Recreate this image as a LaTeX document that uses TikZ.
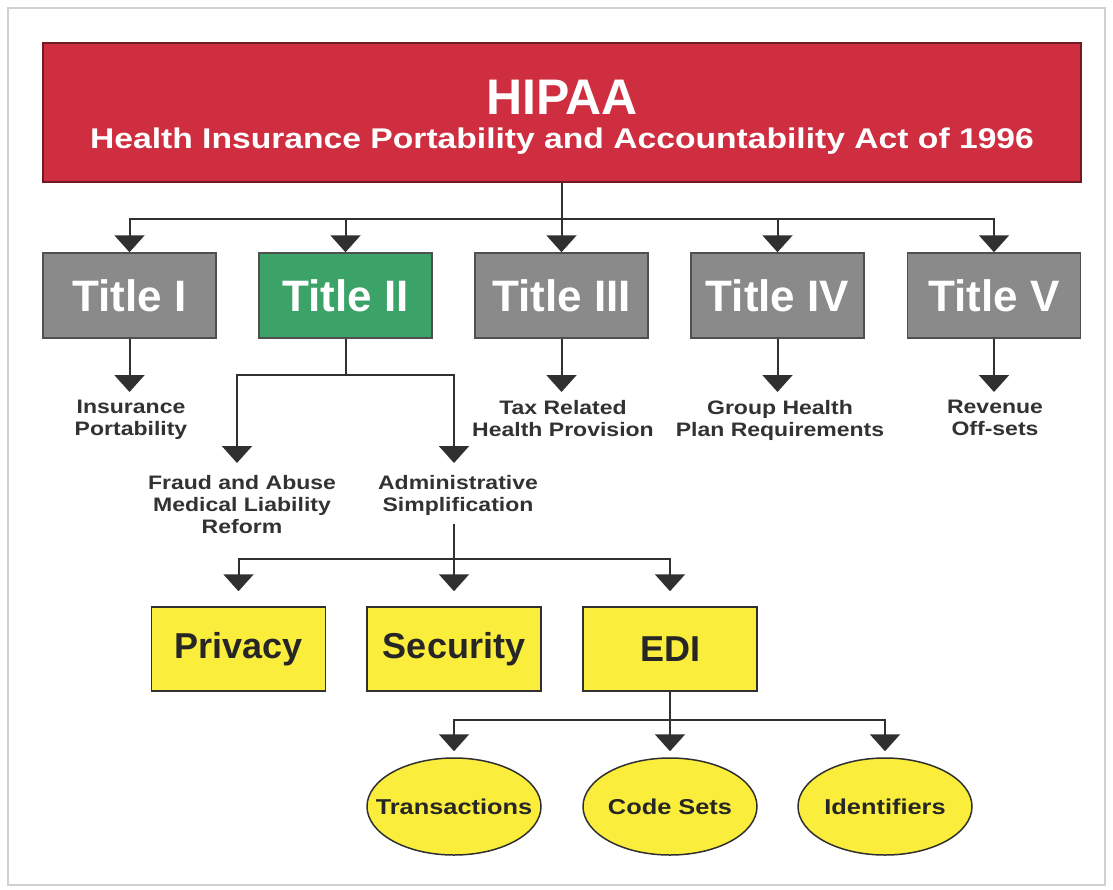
\documentclass[tikz,border=0pt]{standalone}
\usepackage{fontspec}
\setmainfont{Liberation Sans}
\newfontfamily\widefont[FakeStretch=1.18]{Liberation Sans}
\usetikzlibrary{arrows.meta,shapes.geometric}
\definecolor{hred}{RGB}{207,46,64}
\definecolor{hredb}{RGB}{110,28,36}
\definecolor{hgreen}{RGB}{60,163,104}
\definecolor{hgray}{RGB}{138,138,138}
\definecolor{hyellow}{RGB}{250,237,60}
\definecolor{hline}{RGB}{48,48,48}
\definecolor{htext}{RGB}{50,50,50}
\tikzset{
  x=1pt, y=-1pt,
  titlebox/.style={rectangle, draw=hline!85, line width=1.5pt, fill=hgray,
    minimum width=173pt, minimum height=85pt, text=white,
    font=\bfseries\fontsize{44}{44}\selectfont, inner sep=0pt},
  yellowbox/.style={rectangle, draw=hline, line width=1.5pt, fill=hyellow,
    minimum width=174pt, minimum height=84pt, text=black!85,
    font=\bfseries\fontsize{36}{36}\selectfont, inner sep=0pt},
  oval/.style={ellipse, draw=hline, line width=1.5pt, fill=hyellow,
    minimum width=174pt, minimum height=97pt, text=black!85,
    font=\widefont\bfseries\fontsize{21.5}{22}\selectfont, inner xsep=-40pt, inner ysep=0pt},
  lbl/.style={align=center, text=htext, font=\widefont\bfseries\fontsize{19.5}{22}\selectfont, inner sep=0pt},
  conn/.style={draw=hline, line width=2pt, -{Triangle[width=30pt,length=17pt]}},
}
\begin{document}
\begin{tikzpicture}
\useasboundingbox (0,0) rectangle (1113,889);
\fill[white] (0,0) rectangle (1113,889);
\draw[black!18, line width=2pt] (8,8) rectangle (1105,885);

% header
\node[rectangle, draw=hredb, line width=1.5pt, fill=hred, minimum width=1038pt,
  minimum height=139pt, inner sep=0pt, text=white, align=center,
  font=\widefont\bfseries\fontsize{28.5}{34}\selectfont] (hipaa) at (562,112.5)
  {\rule{0pt}{44pt}{\rmfamily\bfseries\fontsize{50}{50}\selectfont HIPAA}\\
   Health Insurance Portability and Accountability Act of 1996};

% titles
\node[titlebox] (t1) at (129.5,295.5) {Title I};
\node[titlebox, fill=hgreen] (t2) at (345.5,295.5) {Title II};
\node[titlebox] (t3) at (561.5,295.5) {Title III};
\node[titlebox] (t4) at (777.5,295.5) {Title IV};
\node[titlebox] (t5) at (994,295.5) {Title V};

\coordinate (bus1) at (562,219);
\foreach \t in {t1,t2,t3,t4,t5}
  \draw[conn] (hipaa.south) -- (bus1) -| (\t.north);

% labels under titles
\node[lbl, anchor=north] (ins) at (131,400) {Insurance\\Portability};
\node[lbl, anchor=north] (tax) at (563,400) {Tax Related\\Health Provision};
\node[lbl, anchor=north] (grp) at (780,400) {Group Health\\Plan Requirements};
\node[lbl, anchor=north] (rev) at (995,400) {Revenue\\Off-sets};
\draw[conn, shorten >=8pt] (t1.south) -- (t1.south |- ins.north);
\draw[conn, shorten >=8pt] (t3.south) -- (t3.south |- tax.north);
\draw[conn, shorten >=8pt] (t4.south) -- (t4.south |- grp.north);
\draw[conn, shorten >=8pt] (t5.south) -- (t5.south |- rev.north);

% Title II branches
\node[lbl, anchor=north] (fraud) at (242,475) {Fraud and Abuse\\Medical Liability\\Reform};
\node[lbl, anchor=north] (admin) at (458,475) {Administrative\\Simplification};
\coordinate (bus2) at (345.5,375);
\draw[conn, shorten >=12pt] (t2.south) -- (bus2) -| ([xshift=-5pt]fraud.north);
\draw[conn, shorten >=12pt] (t2.south) -- (bus2) -| ([xshift=-4pt]admin.north);

% admin simplification children
\node[yellowbox] (priv) at (238.5,649) {Privacy};
\node[yellowbox] (sec) at (454,649) {Security};
\node[yellowbox] (edi) at (670,649) {EDI};
\coordinate (bus3) at (454,559);
\foreach \b in {priv,sec,edi}
  \draw[conn, shorten >=15pt] ([xshift=-4pt,yshift=-8pt]admin.south) -- (bus3) -| (\b.north);

% EDI children
\node[oval] (trans) at (454,806.5) {Transactions};
\node[oval] (code) at (670,806.5) {Code Sets};
\node[oval] (ident) at (885,806.5) {Identifiers};
\coordinate (bus4) at (670,720);
\foreach \e in {trans,code,ident}
  \draw[conn, shorten >=6pt] (edi.south) -- (bus4) -| (\e.north);
\end{tikzpicture}
\end{document}
